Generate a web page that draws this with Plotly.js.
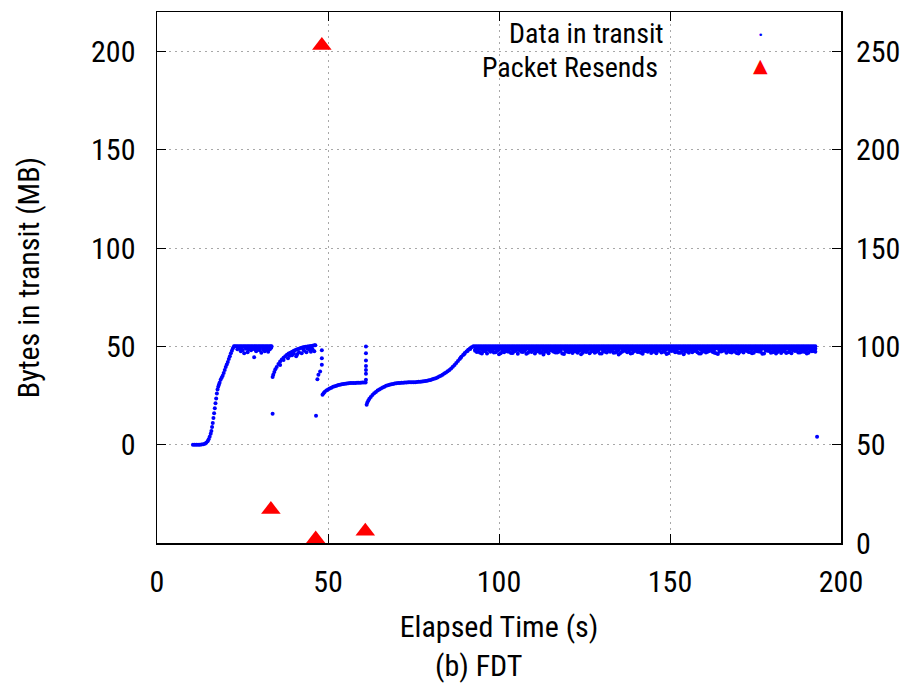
<!DOCTYPE html>
<html>
<head>
<meta charset="utf-8">
<script src="https://cdn.plot.ly/plotly-3.0.1.min.js"></script>
<style>html,body{margin:0;padding:0;background:#fff;}#chart{width:916px;height:685px;}</style>
</head>
<body>
<div id="chart"></div>
<script>
// ---- Data in transit (MB) ----
const rampT  = [10.5,11,11.5,12,12.5,13,13.5,14,14.4,14.8,15.1,15.4,15.7,15.9,16.1,16.3,16.5,16.7,16.9,17.1,17.3,17.5,17.7,17.9,18.1,18.3,18.6,18.9,19.2,19.5,19.8,20.1,20.4,20.7,21.0,21.3,21.6,21.9,22.2,22.5,22.8];
const rampMB = [0,0,0,0,0,0.1,0.2,0.5,1,1.8,2.8,4,5.5,7,9,11,13.5,16,18.5,21,23.5,26,28,29.5,30.5,31.5,33,34,35,36.5,38,39.5,40.8,42,43.5,45,46.5,47.8,49,50,50];

const plateau1T  = [23.2,23.6,24.0,24.4,24.8,25.2,25.6,26.0,26.4,26.8,27.2,27.6,28.0,28.4,28.8,29.2,29.6,30.0,30.4,30.8,31.2,31.6,32.0,32.4,32.8,33.2,33.5,
                    23.5,24.0,24.5,25.0,25.5,26.0,26.5,27.0,27.5,28.0,28.4,28.5,29.0,29.5,30.0,30.5,31.0,31.5,32.0,32.5,33.0,33.4,
                    23.8,24.7,25.8,26.7,27.8,29.3,30.2,31.3,32.2,33.2];
const plateau1MB = [50,50,50,50,50,50,50,50,50,50,50,50,50,50,50,50,50,50,50,50,50,50,50,50,50,50,50,
                    48.5,49,47.5,48,46.5,48.8,47,49,48,49.2,44.5,48.5,47.5,49,48,46.8,48.5,47.5,49,47.2,48.5,49.3,
                    49.4,48.9,49.3,48.2,49.5,48.7,49.4,49.1,48.3,49.6];

const dropT  = [33.8, 46.5, 46.9, 47.2, 47.7, 48.2, 48.2, 48.2];
const dropMB = [15.7, 14.7, 33.3, 35.5, 37.2, 40.6, 44, 48];

const curve2T  = [33.8,34.0,34.3,34.6,35.0,35.5,36.0,36.5,37.0,37.5,38.0,38.5,39.0,39.5,40.0,40.5,41.0,41.5,42.0,42.5,43.0,43.5,44.0,44.5,45.0,45.5,46.0,46.3,
                  36.0,37.0,38.3,38.8,39.5,40.0,40.7,41.0,41.5,42.3,43.0,43.7,44.5,45.0,45.5,46.0,44.0,45.2,42.8];
const curve2MB = [34.4,35.5,37,38.3,39.5,41,42.3,43.3,44.2,45,45.7,46.3,46.8,47.3,47.7,48.1,48.5,48.8,49.1,49.4,49.6,49.8,49.9,50,50.2,50.3,50.5,50.6,
                  40.5,43,44,45.2,45.5,46.3,45,46,47,46.5,47.8,47,48.2,47.2,48.4,47.5,48.9,49.3,48.4];

const curve3T  = [48.4,48.7,49.0,49.5,50.0,50.5,51.0,51.5,52.0,52.5,53.0,53.5,54.0,54.5,55.0,55.5,56.0,56.5,57.0,57.5,58.0,58.5,59.0,59.5,60.0,60.5,61.0,
                  61.1,61.1,61.1,61.1,61.1,61.1,61.1];
const curve3MB = [25.4,26.2,26.8,27.5,28,28.5,29,29.4,29.7,30,30.3,30.5,30.7,30.9,31,31.1,31.2,31.3,31.3,31.4,31.4,31.5,31.5,31.5,31.6,31.6,31.6,
                  33,36,38,40,42.8,46.5,49.9];

const curve4T  = [61.3,61.5,61.8,62.1,62.5,63.0,63.5,64.0,64.5,65.0,65.5,66.0,66.5,67.0,67.5,68.0,68.5,69.0,69.5,70.0,70.5,71.0,71.5,72.0,72.5,73.0,73.5,74.0,74.5,75.0,75.5,76.0,76.5,77.0,77.5,78.0,78.5,79.0,79.5,80.0,80.5,81.0,81.5,82.0,82.5,83.0,83.5,84.0,84.5,85.0,85.5,86.0,86.5,87.0,87.5,88.0,88.5,89.0,89.5,90.0,90.5,91.0,91.5,92.0,92.5,
                  88.8,89.8,90.8,91.6];
const curve4MB = [20.3,21.5,22.5,23.3,24.2,25.2,26.1,26.8,27.5,28.1,28.6,29.1,29.5,29.9,30.2,30.5,30.7,30.9,31.1,31.2,31.3,31.4,31.5,31.5,31.6,31.6,31.7,31.7,31.7,31.8,31.8,31.9,31.95,32,32.1,32.2,32.35,32.5,32.7,32.9,33.2,33.5,33.8,34.2,34.6,35.1,35.6,36.2,36.7,37.3,38,38.7,39.6,40.5,41.5,42.6,43.6,44.7,45.6,46.6,47.4,48.2,48.9,49.5,50,
                  44.2,46.0,47.6,48.6];

const plateau2T = [93,94,95,96,97,98,99,100,101,102,103,104,105,106,107,108,109,110,111,112,113,114,115,116,117,118,119,120,121,122,123,124,125,126,127,128,129,130,131,132,133,134,135,136,137,138,139,140,141,142,143,144,145,146,147,148,149,150,151,152,153,154,155,156,157,158,159,160,161,162,163,164,165,166,167,168,169,170,171,172,173,174,175,176,177,178,179,180,181,182,183,184,185,186,187,188,189,190,191,192];
const plateau2HalfT = [93.5,94.5,95.5,96.5,97.5,98.5,99.5,100.5,101.5,102.5,103.5,104.5,105.5,106.5,107.5,108.5,109.5,110.5,111.5,112.5,113.5,114.5,115.5,116.5,117.5,118.5,119.5,120.5,121.5,122.5,123.5,124.5,125.5,126.5,127.5,128.5,129.5,130.5,131.5,132.5,133.5,134.5,135.5,136.5,137.5,138.5,139.5,140.5,141.5,142.5,143.5,144.5,145.5,146.5,147.5,148.5,149.5,150.5,151.5,152.5,153.5,154.5,155.5,156.5,157.5,158.5,159.5,160.5,161.5,162.5,163.5,164.5,165.5,166.5,167.5,168.5,169.5,170.5,171.5,172.5,173.5,174.5,175.5,176.5,177.5,178.5,179.5,180.5,181.5,182.5,183.5,184.5,185.5,186.5,187.5,188.5,189.5,190.5,191.5,192.5];
const plateau2Top = [50,50,50,50,50,50,50,50,50,50,50,50,50,50,50,50,50,50,50,50,50,50,50,50,50,50,50,50,50,50,50,50,50,50,50,50,50,50,50,50,50,50,50,50,50,50,50,50,50,50,50,50,50,50,50,50,50,50,50,50,50,50,50,50,50,50,50,50,50,50,50,50,50,50,50,50,50,50,50,50,50,50,50,50,50,50,50,50,50,50,50,50,50,50,50,50,50,50,50,50];
const plateau2Half = [50,50,50,50,50,50,50,50,50,50,50,50,50,50,50,50,50,50,50,50,50,50,50,50,50,50,50,50,50,50,50,50,50,50,50,50,50,50,50,50,50,50,50,50,50,50,50,50,50,50,50,50,50,50,50,50,50,50,50,50,50,50,50,50,50,50,50,50,50,50,50,50,50,50,50,50,50,50,50,50,50,50,50,50,50,50,50,50,50,50,50,50,50,50,50,50,50,50,50,50];
const plateau2Mid = [49.2,48.8,49.0,48.6,49.3,48.9,48.5,49.1,48.7,49.2,
                     48.9,49.3,48.6,49.0,48.8,49.2,48.5,49.1,48.9,49.3,
                     48.7,49.0,49.2,48.6,48.9,49.3,48.8,49.1,48.5,49.0,
                     49.2,48.7,48.9,49.3,48.6,49.0,49.1,48.8,49.2,48.5,
                     49.0,48.9,49.3,48.7,49.1,48.6,49.2,48.9,49.0,48.8,
                     49.3,48.5,49.1,48.9,49.2,48.7,49.0,49.3,48.6,48.9,
                     49.1,48.8,49.2,48.6,49.0,49.3,48.7,48.9,49.1,48.5,
                     49.2,49.0,48.8,49.3,48.6,49.1,48.9,49.2,48.7,49.0,
                     48.8,49.3,48.9,48.6,49.1,49.2,48.7,49.0,48.9,49.3,
                     48.6,49.1,48.8,49.2,49.0,48.7,49.3,48.9,49.1,48.8];
const plateau2Mid2 = [48.4,48.9,48.2,48.7,48.5,48.0,48.8,48.3,48.6,48.1,
                      48.7,48.2,48.9,48.4,48.0,48.6,48.8,48.3,48.5,48.1,
                      48.2,48.8,48.5,48.9,48.3,48.1,48.6,48.4,48.8,48.2,
                      48.5,48.1,48.7,48.4,48.9,48.3,48.0,48.6,48.4,48.8,
                      48.3,48.6,48.1,48.8,48.5,48.9,48.2,48.4,48.7,48.0,
                      48.6,48.3,48.8,48.1,48.4,48.9,48.5,48.2,48.7,48.4,
                      48.8,48.1,48.5,48.9,48.3,48.6,48.2,48.8,48.4,48.0,
                      48.5,48.8,48.2,48.6,48.9,48.3,48.7,48.1,48.5,48.4,
                      48.9,48.2,48.6,48.3,48.8,48.5,48.1,48.7,48.4,48.6,
                      48.3,48.8,48.5,48.1,48.7,48.4,48.9,48.2,48.6,48.5];
const plateau2Low = [47.8,47.2,46.3,47.5,48.1,47.6,47.0,46.0,47.4,47.9,
                     47.3,46.6,47.8,48.0,47.1,46.2,47.6,47.9,47.4,46.8,
                     45.9,47.5,48.0,47.2,46.9,47.7,46.1,47.3,47.8,47.5,
                     46.7,46.0,47.6,48.1,47.4,46.8,47.9,46.3,47.2,47.7,
                     48.0,46.9,45.8,47.3,47.8,47.5,46.6,47.9,47.1,46.2,
                     47.6,48.0,47.3,46.5,47.8,47.4,46.1,47.7,47.9,47.2,
                     46.8,46.0,47.5,48.1,47.6,47.0,46.4,47.8,47.3,47.9,
                     46.7,46.1,47.4,47.9,47.6,46.9,47.2,46.3,47.8,48.0,
                     47.1,46.5,47.7,47.4,46.2,47.9,47.6,47.0,46.4,47.8,
                     47.5,46.6,47.3,48.0,47.7,46.9,47.4,46.3,47.8,47.6];
const plateau2Low2 = [47.1,46.8,47.6,46.4,47.3,46.9,47.7,46.5,47.0,47.4,
                      46.6,47.5,46.2,47.2,47.8,46.7,47.1,46.4,47.6,47.0,
                      47.3,46.5,47.7,46.9,47.2,46.3,47.5,47.0,46.6,47.4,
                      47.8,46.8,47.1,46.5,47.6,47.2,46.4,47.5,46.9,47.3,
                      46.7,47.4,46.6,47.8,47.0,46.3,47.5,47.1,46.8,47.6,
                      47.2,46.6,47.4,47.7,46.9,47.1,46.5,47.6,47.0,46.8,
                      47.5,47.3,46.7,47.0,47.8,46.4,47.2,46.9,47.6,47.1,
                      46.5,47.4,47.7,46.8,47.1,47.5,46.6,47.3,46.9,47.6,
                      47.0,46.7,47.5,47.2,46.4,47.7,46.8,47.3,47.1,46.6,
                      47.4,47.0,46.5,47.6,46.9,47.3,47.1,46.7,47.5,47.2];

const tailT  = [193];
const tailMB = [4];

// ---- Packet resends (right axis) ----
const resendT     = [33.3, 46.4, 48.2, 60.9];
const resendCount = [17, 2, 253, 6];

// ---- Labels ----
const xTickVals = [0, 50, 100, 150, 200];
const yTickVals = [0, 50, 100, 150, 200];
const y2TickVals = [0, 50, 100, 150, 200, 250];
const seriesNames = ["Data in transit", "Packet Resends"];

const transitT = [].concat(rampT, plateau1T, dropT, curve2T, curve3T, curve4T,
                           plateau2T, plateau2HalfT, plateau2HalfT, plateau2T, plateau2T, plateau2HalfT, tailT);
const transitMB = [].concat(rampMB, plateau1MB, dropMB, curve2MB, curve3MB, curve4MB,
                            plateau2Top, plateau2Half, plateau2Mid, plateau2Mid2, plateau2Low, plateau2Low2, tailMB);

const FONT = '"Roboto Condensed", "Liberation Sans Narrow", "DejaVu Sans Condensed", "Liberation Sans", sans-serif';
const fontBase = {family: FONT, size: 30, color: '#000'};
const fontLegend = {family: FONT, size: 28, color: '#000'};

const traces = [
  {x: transitT, y: transitMB, type: 'scatter', mode: 'markers', name: seriesNames[0],
   marker: {color: '#0000ff', size: 4}, xaxis: 'x', yaxis: 'y', showlegend: false, cliponaxis: true},
  {x: resendT, y: resendCount, type: 'scatter', mode: 'markers', name: seriesNames[1],
   marker: {color: '#ff0000', size: 17, symbol: 'triangle-up'}, xaxis: 'x', yaxis: 'y2', showlegend: false, cliponaxis: false}
];

const gridStyle = {showgrid: true, gridcolor: '#a8a8a8', gridwidth: 1, griddash: '2px,4px'};

const layout = {
  width: 916, height: 685,
  margin: {l: 157, r: 75, t: 12, b: 142},
  paper_bgcolor: '#fff', plot_bgcolor: '#fff',
  showlegend: false,
  font: fontBase,
  xaxis: Object.assign({
    range: [0, 200], tickvals: xTickVals, ticktext: xTickVals.map(String),
    ticks: 'inside', ticklen: 9, tickwidth: 1, tickcolor: '#000',
    showline: true, linecolor: '#000', linewidth: 1.5, mirror: 'ticks',
    zeroline: false, tickfont: fontBase, ticklabelstandoff: 11,
    title: {text: 'Elapsed Time (s)', font: fontBase, standoff: 18}
  }, gridStyle),
  yaxis: Object.assign({
    range: [-50, 220], tickvals: yTickVals, ticktext: yTickVals.map(String),
    ticks: 'inside', ticklen: 9, tickwidth: 1, tickcolor: '#000',
    showline: true, linecolor: '#000', linewidth: 1.5, mirror: true,
    zeroline: false, tickfont: fontBase, ticklabelstandoff: 14,
    title: {text: 'Bytes in transit (MB)', font: fontBase, standoff: 42}
  }, gridStyle),
  yaxis2: {
    overlaying: 'y', side: 'right', range: [0, 270],
    tickvals: y2TickVals, ticktext: y2TickVals.map(String),
    ticks: 'inside', ticklen: 9, tickwidth: 1, tickcolor: '#000',
    showline: false, showgrid: false, zeroline: false,
    tickfont: fontBase, ticklabelstandoff: 14
  },
  shapes: [
    {type: 'rect', xref: 'x', yref: 'y', x0: 74.4, x1: 193.8, y0: 186, y1: 219.6,
     fillcolor: '#fff', line: {width: 0}, layer: 'below'}
  ],
  annotations: [
    {xref: 'paper', yref: 'paper', x: 0.742, y: 0.9595, xanchor: 'right', yanchor: 'middle',
     text: seriesNames[0], showarrow: false, font: fontLegend, borderpad: 0},
    {xref: 'paper', yref: 'paper', x: 0.7346, y: 0.8964, xanchor: 'right', yanchor: 'middle',
     text: seriesNames[1], showarrow: false, font: fontLegend, borderpad: 0},
    {xref: 'paper', yref: 'paper', x: 0.8816, y: 0.9567, xanchor: 'center', yanchor: 'middle',
     text: '•', showarrow: false, font: {family: '"DejaVu Sans", sans-serif', size: 9, color: '#0000ff'}},
    {xref: 'paper', yref: 'paper', x: 0.8816, y: 0.9002, xanchor: 'center', yanchor: 'middle',
     text: '▲', showarrow: false, font: {family: '"DejaVu Sans", sans-serif', size: 19, color: '#ff0000'}},
    {xref: 'paper', yref: 'paper', x: 0.4707, y: -0.2316, xanchor: 'center', yanchor: 'middle',
     text: '(b) FDT', showarrow: false, font: fontBase}
  ]
};

Plotly.newPlot('chart', traces, layout, {displayModeBar: false, staticPlot: true});
</script>
</body>
</html>
